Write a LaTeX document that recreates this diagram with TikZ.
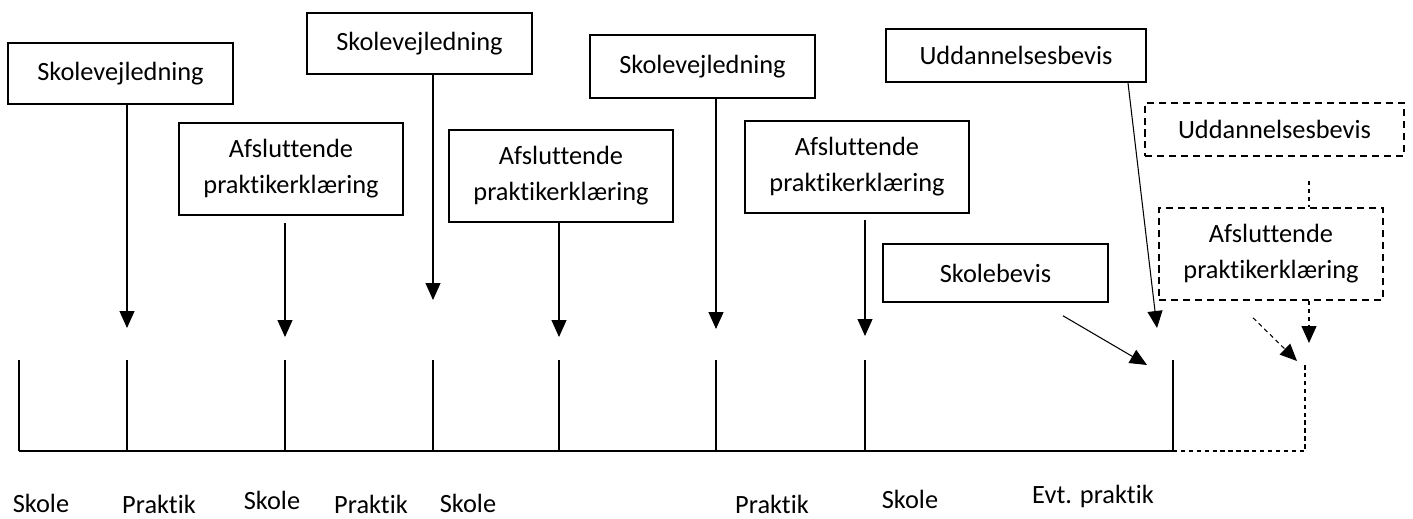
\documentclass[tikz,border=0pt]{standalone}
\usepackage{fontspec}
\setmainfont{Carlito}[Ligatures=NoCommon]
\usetikzlibrary{arrows.meta,positioning}

\tikzset{
  box/.style={draw, line width=0.9pt, align=center, inner sep=0pt, text=black,
    font=\fontsize{15}{20.5}\selectfont},
  dbox/.style={box, dash pattern=on 4pt off 2.8pt},
  pil/.style={-{Triangle[width=0.3cm,length=0.34cm]}, line width=0.6pt},
  stiplet/.style={dash pattern=on 2.5pt off 2pt, line width=0.6pt},
  tid/.style={anchor=base, font=\fontsize{15}{18}\selectfont},
}

\begin{document}
\begin{tikzpicture}[x=0.02cm, y=-0.02cm]
\useasboundingbox (0,0) rectangle (1413,518);

% boxes
\node[box, minimum width=4.5cm, minimum height=1.22cm] (vejl1) at (120.5,73.5) {Skolevejledning};
\node[box, minimum width=4.48cm, minimum height=1.84cm] (afsl1) at (291,169) {Afsluttende\\praktikerklæring};
\node[box, minimum width=4.5cm, minimum height=1.22cm] (vejl2) at (419.5,43.5) {Skolevejledning};
\node[box, minimum width=4.48cm, minimum height=1.84cm] (afsl2) at (561,176) {Afsluttende\\praktikerklæring};
\node[box, minimum width=4.5cm, minimum height=1.26cm] (vejl3) at (702.5,66.5) {Skolevejledning};
\node[box, minimum width=4.48cm, minimum height=1.84cm] (afsl3) at (857,167) {Afsluttende\\praktikerklæring};
\node[box, minimum width=5.2cm, minimum height=1.06cm] (udd1) at (1016,55.5) {Uddannelsesbevis};
\node[box, minimum width=4.5cm, minimum height=1.16cm] (skbev) at (995.5,273) {Skolebevis};
\node[dbox, minimum width=5.18cm, minimum height=1.06cm] (udd2) at (1274.5,129.5) {Uddannelsesbevis};
\node[dbox, minimum width=4.48cm, minimum height=1.84cm] (afsl4) at (1271,254) {Afsluttende\\praktikerklæring};

% time line
\foreach \x in {19,127,285,433,559,716,865,1173}
  \draw[line width=0.6pt] (\x,360) -- (\x,451);
\draw[line width=0.6pt] (19,451) -- (1173,451);
\draw[stiplet] (1173,451) -- (1305,451) -- (1305,363);

% arrow tips
\coordinate (p1) at (127,328);
\coordinate (p2) at (285,337);
\coordinate (p3) at (433,300);
\coordinate (p4) at (559,337);
\coordinate (p5) at (716,329);
\coordinate (p6) at (865,336);
\coordinate (p7) at (1157,328);
\coordinate (p8) at (1147,365);
\coordinate (p9) at (1297,361);
\coordinate (p10) at (1309,343);
\coordinate (k) at (1309,181);

\draw[pil] (vejl1.south -| p1) -- (p1);
\draw[pil, shorten <=0.14cm] (afsl1.south -| p2) -- (p2);
\draw[pil] (vejl2.south -| p3) -- (p3);
\draw[pil] (afsl2.south -| p4) -- (p4);
\draw[pil] (vejl3.south -| p5) -- (p5);
\draw[pil, shorten <=0.12cm] (afsl3.south -| p6) -- (p6);
\draw[pil] ([xshift=2.24cm]udd1.south) -- (p7);
\draw[pil] ([xshift=1.35cm, yshift=-0.26cm]skbev.south) -- (p8);
\draw[pil, stiplet] ([xshift=-0.36cm, yshift=-0.34cm]afsl4.south) -- (p9);
\draw[stiplet] (k) -- (k |- afsl4.north);
\draw[pil, stiplet] (afsl4.south -| p10) -- (p10);

% periods
\node[tid] (lab1) at (41,512) {Skole};
\node[tid] (lab2) at (159,513) {Praktik};
\node[tid] (lab3) at (272,509) {Skole};
\node[tid] (lab4) at (371,513) {Praktik};
\node[tid] (lab5) at (468,512) {Skole};
\node[tid] (lab6) at (772,513) {Praktik};
\node[tid] (lab7) at (910,508) {Skole};
\node[tid] (lab8) at (1093,503) {Evt. praktik};

\end{tikzpicture}
\end{document}
